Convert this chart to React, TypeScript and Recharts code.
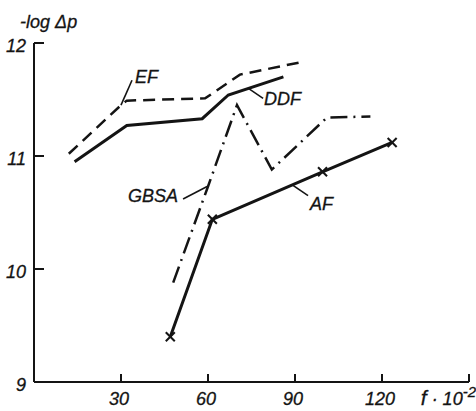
import React from 'react';
import {
  LineChart, Line, XAxis, YAxis, ReferenceLine, ReferenceDot,
} from 'recharts';

// values (f in units of 10^2, y = -log Δp)
const efX = [12, 30, 32, 59, 71, 92];
const efY = [11.02, 11.45, 11.49, 11.51, 11.72, 11.83];

const ddfX = [14, 32, 58, 67, 86];
const ddfY = [10.95, 11.27, 11.33, 11.54, 11.7];

const gbsaX = [48, 60, 70, 82, 101, 116];
const gbsaY = [9.88, 10.73, 11.45, 10.88, 11.34, 11.35];

const afX = [47, 61.5, 99.5, 123.5];
const afY = [9.4, 10.44, 10.86, 11.12];

const xTicks = [30, 60, 90, 120, 150];
const yTicks = [9, 10, 11, 12];

const toPts = (xs: number[], ys: number[]) => xs.map((x, i) => ({ x, y: ys[i] }));

const INK = '#141414';
const FONT = '"Liberation Sans", Arial, sans-serif';

const txt = {
  fontFamily: FONT, fontStyle: 'italic' as const, fontSize: 18, fill: INK,
  stroke: INK, strokeWidth: 0.3,
};

const YTick = (props: any) => {
  const { x, y, payload } = props;
  return (
    <g>
      <line x1={x} x2={x + 10} y1={y} y2={y} stroke={INK} strokeWidth={2} />
      <text x={x - 8} y={y + 3} dy="0.35em" textAnchor="end" {...txt}>{payload.value}</text>
    </g>
  );
};

const XTick = (props: any) => {
  const { x, y, payload } = props;
  const last = payload.value === 150;
  return (
    <g>
      <line x1={x} x2={x} y1={y} y2={y - 8} stroke={INK} strokeWidth={2} />
      {last ? (
        <text x={x + 7} y={y + 23} textAnchor="end" {...txt}>
          <tspan fontSize={21}>f</tspan> · 10<tspan dy={-8} fontSize={15}>-2</tspan>
        </text>
      ) : (
        <text x={x - 2} y={y + 23} textAnchor="middle" {...txt}>{payload.value}</text>
      )}
    </g>
  );
};

const Cross = (props: any) => {
  const { cx, cy } = props;
  if (cx == null || cy == null) return null;
  const s = 4.5;
  return (
    <g stroke={INK} strokeWidth={2}>
      <line x1={cx - s} y1={cy - s} x2={cx + s} y2={cy + s} />
      <line x1={cx - s} y1={cy + s} x2={cx + s} y2={cy - s} />
    </g>
  );
};

const textShape = (label: React.ReactNode, anchor: 'start' | 'end' = 'start') => (p: any) => (
  <text x={p.cx} y={p.cy} textAnchor={anchor} {...txt}>{label}</text>
);

const leaders = [
  [{ x: 30, y: 11.45 }, { x: 33.8, y: 11.67 }],
  [{ x: 73.8, y: 11.6 }, { x: 79, y: 11.51 }],
  [{ x: 51.4, y: 10.62 }, { x: 59.7, y: 10.73 }],
  [{ x: 89.3, y: 10.74 }, { x: 94.5, y: 10.65 }],
];

export default function App() {
  return (
    <div style={{ position: 'absolute', left: 0, top: 0, width: 476, height: 411, background: '#fff' }}>
      <LineChart width={476} height={411} margin={{ top: 43, right: 7, left: 0, bottom: 0 }}>
        <XAxis
          type="number" dataKey="x" domain={[0, 150]} ticks={xTicks} height={29}
          axisLine={{ stroke: INK, strokeWidth: 2 }} tickLine={false} tickSize={0} tickMargin={0}
          tick={<XTick />} interval={0}
        />
        <YAxis
          type="number" dataKey="y" domain={[9, 12]} ticks={yTicks} width={34}
          axisLine={{ stroke: INK, strokeWidth: 2 }} tickLine={false} tickSize={0} tickMargin={0}
          tick={<YTick />} interval={0}
        />
        <Line data={toPts(efX, efY)} dataKey="y" type="linear" stroke={INK} strokeWidth={2.5}
          strokeDasharray="12 7" dot={false} isAnimationActive={false} />
        <Line data={toPts(ddfX, ddfY)} dataKey="y" type="linear" stroke={INK} strokeWidth={3}
          dot={false} isAnimationActive={false} />
        <Line data={toPts(gbsaX, gbsaY)} dataKey="y" type="linear" stroke={INK} strokeWidth={2.5}
          strokeDasharray="17 6 2 6" dot={false} isAnimationActive={false} />
        <Line data={toPts(afX, afY)} dataKey="y" type="linear" stroke={INK} strokeWidth={3}
          dot={<Cross />} isAnimationActive={false} />
        {leaders.map((seg, i) => (
          <ReferenceLine key={i} segment={seg} stroke={INK} strokeWidth={1.6} ifOverflow="visible" />
        ))}
        <ReferenceDot x={34.8} y={11.65} r={0} ifOverflow="visible" shape={textShape('EF')} />
        <ReferenceDot x={79.3} y={11.45} r={0} ifOverflow="visible" shape={textShape('DDF')} />
        <ReferenceDot x={49.7} y={10.59} r={0} ifOverflow="visible" shape={textShape('GBSA', 'end')} />
        <ReferenceDot x={95.2} y={10.52} r={0} ifOverflow="visible" shape={textShape('AF')} />
        <ReferenceDot x={-4.8} y={12.13} r={0} ifOverflow="visible" shape={textShape('-log Δp')} />
      </LineChart>
    </div>
  );
}
